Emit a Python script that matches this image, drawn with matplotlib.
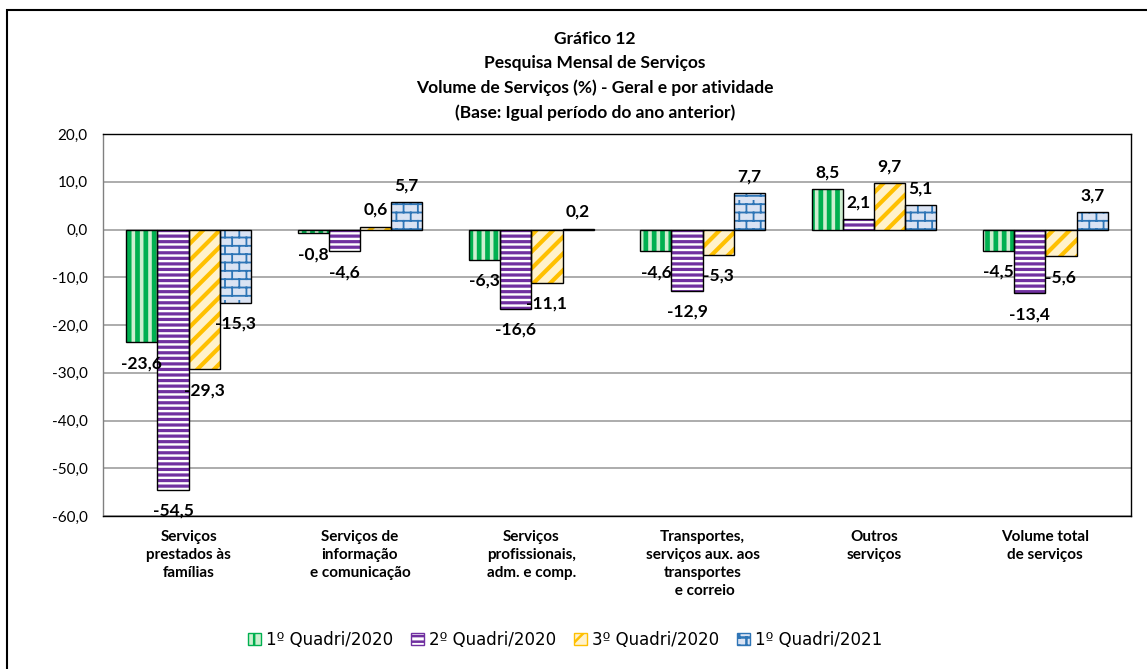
import warnings
import numpy as np
import matplotlib
matplotlib.use('Agg')
import matplotlib.pyplot as plt
import matplotlib.hatch as mhatch
from matplotlib.path import Path
from matplotlib.patches import Patch, Rectangle

warnings.filterwarnings('ignore')

categories = ['Serviços\nprestados às\nfamílias',
              'Serviços de\ninformação\ne comunicação',
              'Serviços\nprofissionais,\nadm. e comp.',
              'Transportes,\nserviços aux. aos\ntransportes\n e correio',
              'Outros\nserviços',
              'Volume total\nde serviços']
series_names = ['1º Quadri/2020', '2º Quadri/2020', '3º Quadri/2020', '1º Quadri/2021']
q1_2020 = [-23.6, -0.8, -6.3, -4.6, 8.5, -4.5]
q2_2020 = [-54.5, -4.6, -16.6, -12.9, 2.1, -13.4]
q3_2020 = [-29.3, 0.6, -11.1, -5.3, 9.7, -5.6]
q1_2021 = [-15.3, 5.7, 0.2, 7.7, 5.1, 3.7]
y_ticks = [20, 10, 0, -10, -20, -30, -40, -50, -60]
title_lines = ['Gráfico 12', 'Pesquisa Mensal de Serviços',
               'Volume de Serviços (%) - Geral e por atividade',
               '(Base: Igual período do ano anterior)']


# brick pattern hatch, triggered by 'b'
class BrickHatch(mhatch.HatchPatternBase):
    rows = 12
    cols = 7

    def __init__(self, hatch, density):
        on = 'b' in hatch
        self.num_vertices = (self.rows * 2 + self.rows * self.cols * 2) if on else 0

    def set_vertices_and_codes(self, vertices, codes):
        h = 1.0 / self.rows
        w = 1.0 / self.cols
        i = 0
        for r in range(self.rows):
            y = (r + 0.5) * h
            vertices[i] = (0, y)
            vertices[i + 1] = (1, y)
            codes[i] = Path.MOVETO
            codes[i + 1] = Path.LINETO
            i += 2
        for r in range(self.rows):
            y0 = (r + 0.5) * h
            shift = 0.5 * w * (r % 2) + 0.25 * w
            for c in range(self.cols):
                x = c * w + shift
                vertices[i] = (x, y0)
                vertices[i + 1] = (x, min(y0 + h, 1.0))
                codes[i] = Path.MOVETO
                codes[i + 1] = Path.LINETO
                i += 2


mhatch._hatch_types.append(BrickHatch)

plt.rcParams['font.family'] = ['Lato', 'DejaVu Sans']

styles = [
    dict(face='#CDEFD0', hatch='||', hc='#00B050', hlw=3.4),
    dict(face='white', hatch='---', hc='#7030A0', hlw=2.3),
    dict(face='#FFF2CC', hatch='//', hc='#FFC000', hlw=3.0),
    dict(face='#DAE3F3', hatch='b', hc='#2E75B6', hlw=1.3),
]
series = [q1_2020, q2_2020, q3_2020, q1_2021]

fig = plt.figure(figsize=(11.47, 6.69), dpi=100)
ax = fig.add_axes([103 / 1147, 1 - 516 / 669, (1131 - 103) / 1147, (516 - 134) / 669])

idx = np.arange(len(categories))
w = 0.182
handles = []
for i, (vals, st) in enumerate(zip(series, styles)):
    x = idx + (i - 1.5) * w
    plt.rcParams['hatch.linewidth'] = st['hlw']
    bars = ax.bar(x, vals, w, color=st['face'], edgecolor=st['hc'], linewidth=0,
                  hatch=st['hatch'], zorder=2)
    for b in bars:
        if hasattr(b, 'set_hatch_linewidth'):
            b.set_hatch_linewidth(st['hlw'])
    ax.bar(x, vals, w, fill=False, edgecolor='black', linewidth=1, zorder=3)
    for xi, v in zip(x, vals):
        off = 12 if v >= 0 else -15
        ax.annotate(f'{v:.1f}'.replace('.', ','), (xi, v), xytext=(0, off),
                    textcoords='offset points', ha='center', va='center',
                    fontsize=12.5, fontweight='bold', zorder=4)
    handles.append(Patch(facecolor=st['face'], edgecolor=st['hc'], hatch=st['hatch'],
                         linewidth=1.0, label=series_names[i]))

plt.rcParams['hatch.linewidth'] = 1.8

ax.set_xlim(-0.5, len(categories) - 0.5)
ax.set_ylim(-60, 20)
ax.set_yticks(y_ticks)
ax.set_yticklabels([f'{v:.1f}'.replace('.', ',') for v in y_ticks], fontsize=11)
ax.set_xticks(idx)
ax.set_xticklabels(categories, fontsize=11, fontweight='bold', linespacing=1.38)
ax.tick_params(axis='both', length=0)
ax.tick_params(axis='y', pad=11)
ax.tick_params(axis='x', pad=10)
ax.yaxis.grid(True, color='#A6A6A6', linewidth=1.3, zorder=0)
ax.set_axisbelow(True)
for s in ax.spines.values():
    s.set_color('black')
    s.set_linewidth(1)
ax.spines['left'].set_color('#808080')

fig.text(595 / 1147, 1 - 31 / 669, '\n'.join(title_lines), ha='center', va='top',
         fontsize=12.5, fontweight='bold', linespacing=1.62)

fig.legend(handles=handles, loc='center', bbox_to_anchor=(565 / 1147, 1 - 640 / 669),
           ncol=4, frameon=False, prop={'family': 'DejaVu Sans', 'size': 12},
           handlelength=0.75, handleheight=0.75, handletextpad=0.3, columnspacing=1.1)

fig.patches.append(Rectangle((7 / 1147, -0.1), 2, 1.1 - 10 / 669, transform=fig.transFigure,
                             fill=False, edgecolor='black', linewidth=1.5))

fig.savefig('out.png', dpi=100, facecolor='white')
